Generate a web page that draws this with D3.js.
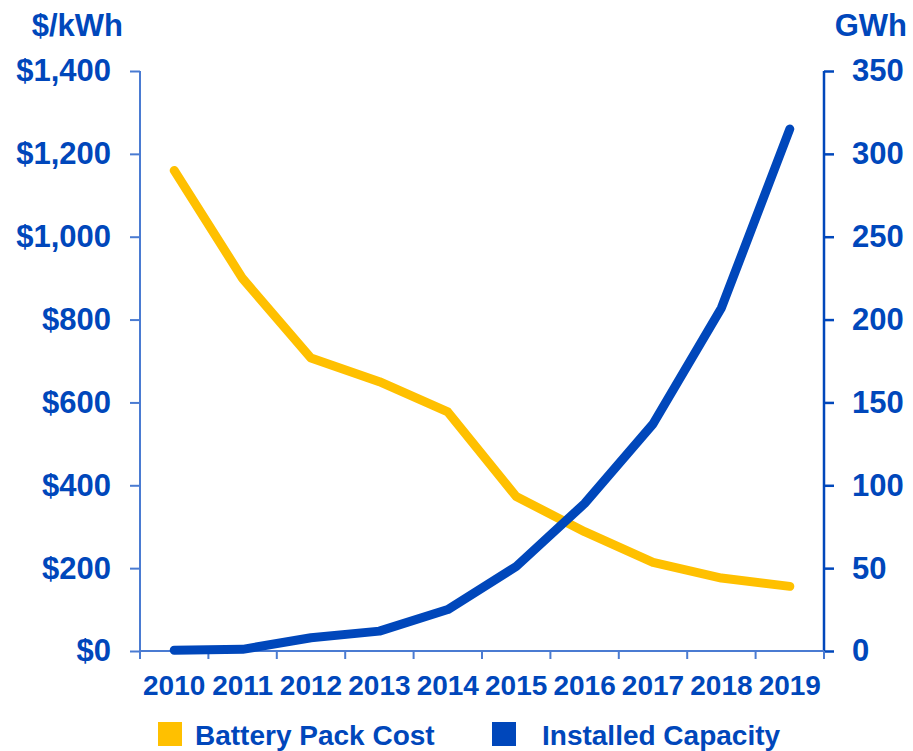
<!DOCTYPE html>
<html>
<head>
<meta charset="utf-8">
<script src="https://cdn.jsdelivr.net/npm/d3@7"></script>
<style>
  html, body { margin: 0; padding: 0; background: #ffffff; }
  svg text { font-family: "Liberation Sans", Arial, sans-serif; font-weight: bold; fill: #0047bb; }
</style>
</head>
<body>
<svg id="chart" width="913" height="751"></svg>
<script>
// Lithium-ion battery pack price vs. cumulative installed capacity
const years = ["2010", "2011", "2012", "2013", "2014", "2015", "2016", "2017", "2018", "2019"];
const packCost = [1160, 899, 707, 650, 577, 373, 288, 214, 176, 156];          // $/kWh
const installedCapacity = [0.5, 1, 8, 12, 25, 51, 89, 137, 207, 315];        // GWh
const costTicks = [0, 200, 400, 600, 800, 1000, 1200, 1400];
const capacityTicks = [0, 50, 100, 150, 200, 250, 300, 350];
const seriesNames = ["Battery Pack Cost", "Installed Capacity"];

const COLOR_COST = "#ffc000";
const COLOR_CAP = "#0047bb";
const AXIS_LIGHT = "#4a7bd2";

const svg = d3.select("#chart");
const plotLeft = 140, plotRight = 824, plotTop = 71, plotBottom = 651;

const x = d3.scaleBand().domain(years).range([plotLeft, plotRight]).padding(0);
const yCost = d3.scaleLinear().domain([0, 1400]).range([plotBottom, plotTop]);
const yCap = d3.scaleLinear().domain([0, 350]).range([plotBottom, plotTop]);

// Left axis ($/kWh)
const gLeft = svg.append("g").attr("transform", `translate(${plotLeft},0)`)
  .call(d3.axisLeft(yCost).tickValues(costTicks).tickSize(10).tickPadding(19)
    .tickFormat(d => "$" + d3.format(",")(d)));
gLeft.select(".domain").attr("stroke", AXIS_LIGHT).attr("stroke-width", 2)
  .attr("d", `M0,${plotTop}V${plotBottom}`);
gLeft.selectAll(".tick line").attr("stroke", AXIS_LIGHT).attr("stroke-width", 2);
gLeft.selectAll(".tick text").attr("font-size", 31).attr("fill", "#0047bb");

// Right axis (GWh)
const gRight = svg.append("g").attr("transform", `translate(${plotRight},0)`)
  .call(d3.axisRight(yCap).tickValues(capacityTicks).tickSize(10).tickPadding(18));
gRight.select(".domain").attr("stroke", COLOR_CAP).attr("stroke-width", 2.5)
  .attr("d", `M0,${plotTop}V${plotBottom}`);
gRight.selectAll(".tick line").attr("stroke", COLOR_CAP).attr("stroke-width", 2.5);
gRight.selectAll(".tick text").attr("font-size", 31).attr("fill", "#0047bb");

// Bottom axis: labels centred in each band, ticks on band edges
const gBottom = svg.append("g").attr("transform", `translate(0,${plotBottom})`);
gBottom.append("line").attr("x1", plotLeft).attr("x2", plotRight).attr("y1", 0).attr("y2", 0)
  .attr("stroke", AXIS_LIGHT).attr("stroke-width", 2);
const edges = years.map(d => x(d)).concat([x.range()[1]]);
gBottom.selectAll("line.edge").data(edges).join("line").attr("class", "edge")
  .attr("x1", d => d).attr("x2", d => d).attr("y1", 0).attr("y2", 8)
  .attr("stroke", AXIS_LIGHT).attr("stroke-width", 2);
gBottom.selectAll("text.year").data(years).join("text").attr("class", "year")
  .attr("x", d => x(d) + x.bandwidth() / 2).attr("y", 44)
  .attr("text-anchor", "middle").attr("font-size", 28).text(d => d);

// Axis titles
svg.append("text").attr("x", 123).attr("y", 36).attr("text-anchor", "end")
  .attr("font-size", 31).text("$/kWh");
svg.append("text").attr("x", 907).attr("y", 36).attr("text-anchor", "end")
  .attr("font-size", 31).text("GWh");

// Series lines
const cx = d => x(d) + x.bandwidth() / 2;
const costLine = d3.line().x((d, i) => cx(years[i])).y(d => yCost(d));
const capLine = d3.line().x((d, i) => cx(years[i])).y(d => yCap(d));

svg.append("path").datum(packCost).attr("d", costLine)
  .attr("fill", "none").attr("stroke", COLOR_COST).attr("stroke-width", 9)
  .attr("stroke-linecap", "round").attr("stroke-linejoin", "round");
svg.append("path").datum(installedCapacity).attr("d", capLine)
  .attr("fill", "none").attr("stroke", COLOR_CAP).attr("stroke-width", 9)
  .attr("stroke-linecap", "round").attr("stroke-linejoin", "round");

// Legend
const legend = [
  { name: seriesNames[0], color: COLOR_COST, sx: 158, tx: 195 },
  { name: seriesNames[1], color: COLOR_CAP, sx: 492, tx: 542 }
];
const lg = svg.append("g");
lg.selectAll("rect").data(legend).join("rect")
  .attr("x", d => d.sx).attr("y", 722).attr("width", 24).attr("height", 24)
  .attr("fill", d => d.color);
lg.selectAll("text").data(legend).join("text")
  .attr("x", d => d.tx).attr("y", 745).attr("font-size", 28).text(d => d.name);
</script>
</body>
</html>
